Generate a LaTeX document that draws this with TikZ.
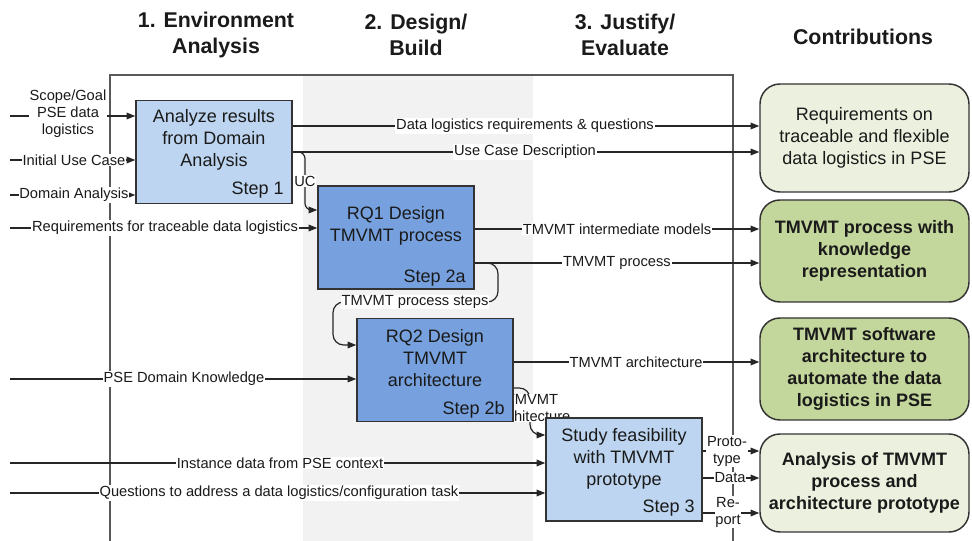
\documentclass[tikz,border=0pt]{standalone}
\usepackage{fontspec}
\setmainfont{Liberation Sans}
\usetikzlibrary{arrows.meta}
\definecolor{lblue}{HTML}{BDD5F0}
\definecolor{mblue}{HTML}{77A1DE}
\definecolor{lgreen}{HTML}{EBF1DE}
\definecolor{dgreen}{HTML}{C3D69B}
\definecolor{band}{HTML}{F2F2F2}
\definecolor{framec}{HTML}{595959}
\definecolor{edgec}{HTML}{333333}
\definecolor{ink}{HTML}{1A1A1A}
\pgfdeclarelayer{back}
\pgfdeclarelayer{lines}
\pgfdeclarelayer{labels}
\pgfsetlayers{back,lines,labels,main}
\begin{document}
\begin{tikzpicture}[x=0.75pt,y=-0.75pt,
  every node/.style={text=ink},
  lbl/.style={font=\fontsize{11}{12.75}\selectfont, fill=white, inner sep=0.6pt, align=center},
  arr/.style={draw=black!85, line width=0.9pt, -{Triangle[length=6.5pt,width=5pt]}},
  stepbox/.style={draw=edgec, line width=1.1pt, minimum width=117pt, minimum height=77.5pt, inner sep=0pt},
  contrib/.style={draw=edgec, line width=1.1pt, rounded corners=15pt, minimum width=156.75pt, align=center, font=\fontsize{13.5}{16.5}\selectfont, inner sep=2pt},
  btxt/.style={font=\fontsize{13.5}{16.5}\selectfont, align=center, inner sep=0pt},
  head/.style={font=\bfseries\fontsize{16}{19.5}\selectfont, align=center}
]
\useasboundingbox (0,0) rectangle (972,541);

\begin{pgfonlayer}{back}
\fill[white] (0,0) rectangle (972,541);
\fill[band] (303,75) rectangle (533,541);
\draw[framec, line width=1.5pt] (110,541) -- (110,75) -- (733,75) -- (733,541);
\end{pgfonlayer}

% headers
\node[head] (h1) at (216,35) {1. Environment\\Analysis};
\node[head] (h2) at (416,35) {2. Design/\\Build};
\node[head] (h3) at (625,35) {3. Justify/\\Evaluate};
\node[head] (h4) at (863,37) {Contributions};

% step boxes
\node[stepbox, fill=lblue] (s1) at (214,152) {};
\node[stepbox, fill=mblue] (s2a) at (396,237.5) {};
\node[stepbox, fill=mblue] (s2b) at (435,370) {};
\node[stepbox, fill=lblue] (s3) at (624,469.5) {};

\node[btxt] (t1) at (214,140) {Analyze results\\from Domain\\Analysis};
\node[btxt, anchor=east] (n1) at (284,190) {Step 1};
\node[btxt] (t2a) at (396,226) {RQ1 Design\\TMVMT process};
\node[btxt, anchor=east] (n2a) at (466,278) {Step 2a};
\node[btxt] (t2b) at (435,358) {RQ2 Design\\TMVMT\\architecture};
\node[btxt, anchor=east] (n2b) at (505,410) {Step 2b};
\node[btxt] (t3) at (624,459) {Study feasibility\\with TMVMT\\prototype};
\node[btxt, anchor=east] (n3) at (695,508) {Step 3};

% contribution boxes
\node[contrib, fill=lgreen, minimum height=81pt] (c1) at (864.5,138) {Requirements on\\traceable and flexible\\data logistics in PSE};
\node[contrib, fill=dgreen, minimum height=76.5pt, font=\bfseries\fontsize{13.5}{16.5}\selectfont] (c2) at (864.5,251) {TMVMT process with\\knowledge\\representation};
\node[contrib, fill=dgreen, minimum height=76.5pt, font=\bfseries\fontsize{13.5}{16.5}\selectfont] (c3) at (864.5,369) {TMVMT software\\architecture to\\automate the data\\logistics in PSE};
\node[contrib, fill=lgreen, minimum height=73.5pt, font=\bfseries\fontsize{13.5}{16.5}\selectfont] (c4) at (864.5,483) {Analysis of TMVMT\\process and\\architecture prototype};

% helper coordinates
\coordinate (i1) at (10,116);
\coordinate (i2) at (10,160);
\coordinate (i3) at (10,195);
\coordinate (i4) at (10,228);
\coordinate (i5) at (10,379);
\coordinate (i6) at (10,463);
\coordinate (i7) at (10,493);
\coordinate (y1) at (0,126);
\coordinate (y2) at (0,152);
\coordinate (y3) at (0,229);
\coordinate (y4) at (0,263);
\coordinate (y5) at (0,362);
\coordinate (y6) at (0,451);
\coordinate (y7) at (0,478);
\coordinate (y8) at (0,513);
\coordinate (yuc) at (0,210);
\coordinate (yps) at (0,345);
\coordinate (yar) at (0,388);
\coordinate (yar2) at (0,435);

\begin{pgfonlayer}{lines}
% inputs
\draw[arr] (i1) -- (i1 -| s1.west);
\draw[arr] (i2) -- (i2 -| s1.west);
\draw[arr] (i3) -- (i3 -| s1.west);
\draw[arr] (i4) -- (i4 -| s2a.west);
\draw[arr] (i5) -- (i5 -| s2b.west);
\draw[arr] (i6) -- (i6 -| s3.west);
\draw[arr] (i7) -- (i7 -| s3.west);
% outputs
\draw[arr] (s1.east |- y1) -- (c1.west |- y1);
\draw[arr] (s1.east |- y2) -- (c1.west |- y2);
\draw[arr] (s2a.east |- y3) -- (c2.west |- y3);
\draw[arr] (s2a.east |- y4) -- (c2.west |- y4);
\draw[arr] (s2b.east |- y5) -- (c3.west |- y5);
\draw[arr] (s3.east |- y6) -- (c4.west |- y6);
\draw[arr] (s3.east |- y7) -- (c4.west |- y7);
\draw[arr] (s3.east |- y8) -- (c4.west |- y8);
% internal flows
\draw[arr, rounded corners=5pt] (s1.east |- y2) -- (305,152) -- (305,210) -- (s2a.west |- yuc);
\draw[arr, rounded corners=8pt] (s2a.east |- y4) -- (498,263) -- (498,302) -- (333,302) -- (333,345) -- (s2b.west |- yps);
\draw[arr, rounded corners=8pt] (s2b.east |- yar) -- (530,388) -- (530,435) -- (s3.west |- yar2);
\end{pgfonlayer}

\begin{pgfonlayer}{labels}
\node[lbl] (l1) at (68,114) {Scope/Goal\\PSE data\\logistics};
\node[lbl] (l2) at (74,160) {Initial Use Case};
\node[lbl] (l3) at (74,195) {Domain Analysis};
\node[lbl] (l4) at (165,228) {Requirements for traceable data logistics};
\node[lbl] (l5) at (184,379) {PSE Domain Knowledge};
\node[lbl] (l6) at (280,463) {Instance data from PSE context};
\node[lbl] (l7) at (279,493) {Questions to address a data logistics/configuration task};
\node[lbl] (l8) at (525,126) {Data logistics requirements \& questions};
\node[lbl] (l9) at (525,152) {Use Case Description};
\node[lbl] (l10) at (617,229) {TMVMT intermediate models};
\node[lbl] (l11) at (617,263) {TMVMT process};
\node[lbl] (l12) at (636,362) {TMVMT architecture};
\node[lbl] (l13) at (727,451) {Proto-\\type};
\node[lbl] (l14) at (730,478) {Data};
\node[lbl] (l15) at (728,512) {Re-\\port};
\node[lbl] (l16) at (305,181) {UC};
\node[lbl] (l17) at (415,302) {TMVMT process steps};
\node[lbl] (l18) at (532,408) {TMVMT\\architecture};
\end{pgfonlayer}
\end{tikzpicture}
\end{document}
